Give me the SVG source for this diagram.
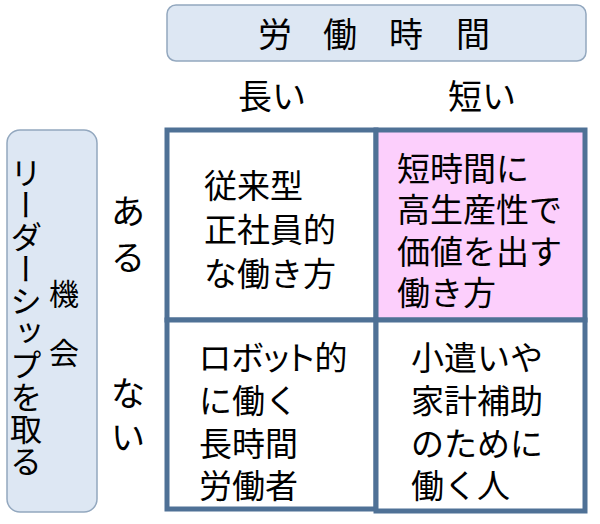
<svg xmlns="http://www.w3.org/2000/svg" width="600" height="524" viewBox="0 0 600 524">
<style>
text { font-family: "Noto Sans CJK JP", "Noto Sans", sans-serif; fill: #000; }
.hdr { fill: #dde7f3; stroke: #93a8bf; stroke-width: 1.5; }
.cell { fill: #ffffff; stroke: #4f7196; stroke-width: 5; }
.pink { fill: #fccffc; }
.t33 { font-size: 33px; }
.t34 { font-size: 34px; }
.mid { text-anchor: middle; }
.vert { writing-mode: vertical-rl; font-size: 32px; }
</style>
<rect width="600" height="524" fill="#ffffff"/>
<g id="header-time">
  <rect class="hdr" x="167" y="5" width="419" height="56" rx="9"/>
  <text class="t34 mid" y="47"><tspan x="275">労</tspan><tspan x="340">働</tspan><tspan x="406">時</tspan><tspan x="473">間</tspan></text>
</g>
<g id="header-leadership">
  <rect class="hdr" x="7" y="130" width="90" height="382" rx="13"/>
  <text class="vert" x="26" y="157">リーダーシップを取る</text>
  <text class="mid" style="font-size:30px" x="64" y="305">機</text>
  <text class="mid" style="font-size:30px" x="64" y="364">会</text>
</g>
<g id="col-long"><text class="t34 mid" x="272" y="109">長い</text></g>
<g id="col-short"><text class="t34 mid" x="482" y="109">短い</text></g>
<g id="row-yes"><text class="t34 mid"><tspan x="128" y="224">あ</tspan><tspan x="128" y="270">る</tspan></text></g>
<g id="row-no"><text class="t34 mid"><tspan x="128" y="406">な</tspan><tspan x="128" y="450">い</tspan></text></g>
<g id="cell-tl">
  <rect class="cell" x="167" y="130" width="209" height="190"/>
  <text class="t33"><tspan x="204" y="198">従来型</tspan><tspan x="204" y="242">正社員的</tspan><tspan x="204" y="286">な働き方</tspan></text>
</g>
<g id="cell-tr">
  <rect class="cell pink" x="376" y="130" width="209" height="190"/>
  <text class="t33"><tspan x="397" y="181">短時間に</tspan><tspan x="397" y="222">高生産性で</tspan><tspan x="397" y="264">価値を出す</tspan><tspan x="397" y="305">働き方</tspan></text>
</g>
<g id="cell-bl">
  <rect class="cell" x="167" y="320" width="209" height="189"/>
  <text class="t33"><tspan x="199" y="370" style="font-feature-settings:'palt'">ロボット的</tspan><tspan x="199" y="413">に働く</tspan><tspan x="199" y="456">長時間</tspan><tspan x="199" y="498">労働者</tspan></text>
</g>
<g id="cell-br">
  <rect class="cell" x="376" y="320" width="209" height="191"/>
  <text class="t33"><tspan x="411" y="370">小遣いや</tspan><tspan x="411" y="413">家計補助</tspan><tspan x="411" y="456">のために</tspan><tspan x="411" y="498">働く人</tspan></text>
</g>
<g id="connectors"></g>
</svg>
